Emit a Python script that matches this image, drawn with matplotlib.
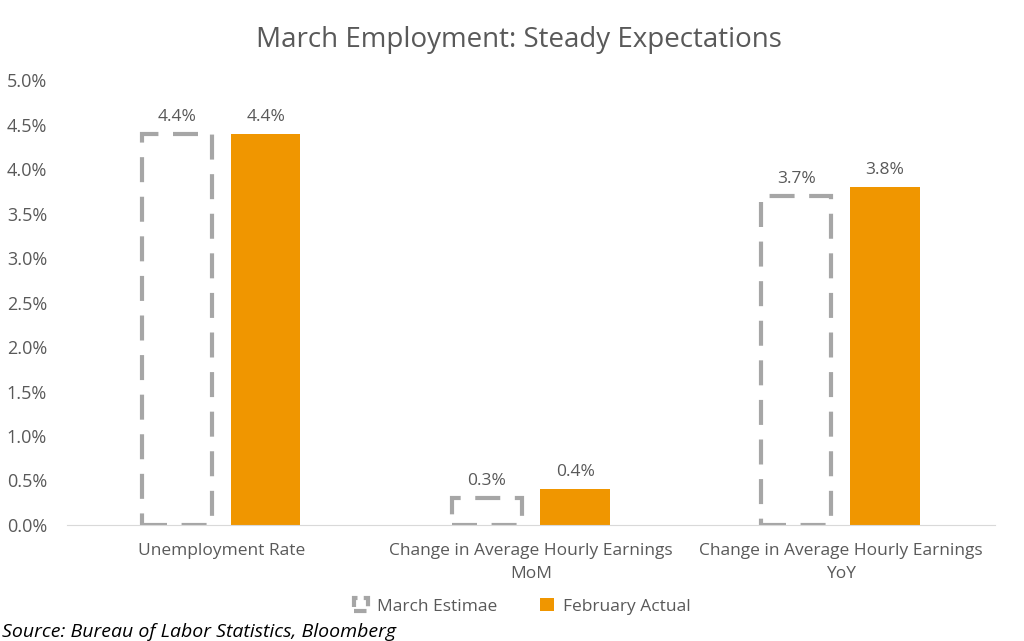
import numpy as np
import matplotlib.pyplot as plt
from matplotlib.patches import Patch
from matplotlib.ticker import FuncFormatter

# --- dados ---
categorias = ['Unemployment Rate',
              'Change in Average Hourly Earnings\nMoM',
              'Change in Average Hourly Earnings\nYoY']
estimativa_marco = [4.4, 0.3, 3.7]
atual_fevereiro = [4.4, 0.4, 3.8]
series_nomes = ['March Estimae', 'February Actual']

CINZA_TXT = '#595959'
CINZA_BORDA = '#A6A6A6'
LARANJA = '#F09600'

plt.rcParams['font.family'] = ['Open Sans', 'DejaVu Sans']

fig = plt.figure(figsize=(10.24, 6.41), dpi=100)
ax = fig.add_axes([0.065, 0.181, 0.907, 0.694])

x = np.arange(len(categorias))
largura = 0.225
desloc = 0.143

barras_est = ax.bar(x - desloc, estimativa_marco, largura, facecolor='none',
                    edgecolor=CINZA_BORDA, linewidth=3, linestyle=(0, (6, 3.5)))
barras_atual = ax.bar(x + desloc, atual_fevereiro, largura, color=LARANJA)

for b, v in zip(list(barras_est) + list(barras_atual), estimativa_marco + atual_fevereiro):
    ax.text(b.get_x() + b.get_width() / 2, v + 0.1, f'{v:.1f}%',
            ha='center', va='bottom', fontsize=12.5, color=CINZA_TXT)

ax.set_xlim(-0.5, 2.5)
ax.set_ylim(0, 5.0)
ax.set_yticks(np.arange(0, 5.01, 0.5))
ax.yaxis.set_major_formatter(FuncFormatter(lambda v, p: f'{v:.1f}%'))
ax.set_xticks(x)
ax.set_xticklabels(categorias, linespacing=1.55)
ax.tick_params(axis='both', length=0, labelsize=12.5, labelcolor=CINZA_TXT)
ax.tick_params(axis='x', pad=13)
ax.tick_params(axis='y', labelsize=13, pad=14)
for s in ['top', 'right', 'left']:
    ax.spines[s].set_visible(False)
ax.spines['bottom'].set_color('#D9D9D9')

fig.text(0.507, 0.937, 'March Employment: Steady Expectations', fontsize=20,
         color=CINZA_TXT, ha='center', va='center')

handles = [Patch(facecolor='none', edgecolor=CINZA_BORDA, linewidth=3,
                 linestyle=(0, (3, 1.5))),
           Patch(facecolor=LARANJA)]
fig.legend(handles, series_nomes, loc='center', bbox_to_anchor=(0.51, 0.054),
           ncol=2, frameon=False, fontsize=12.5, labelcolor=CINZA_TXT,
           handlelength=0.8, handleheight=0.8, columnspacing=2.5, handletextpad=0.5)

fig.text(0.002, 0.014, 'Source: Bureau of Labor Statistics, Bloomberg',
         fontsize=14, style='italic', color='black', ha='left', va='center')

fig.savefig('out.png', dpi=100)
